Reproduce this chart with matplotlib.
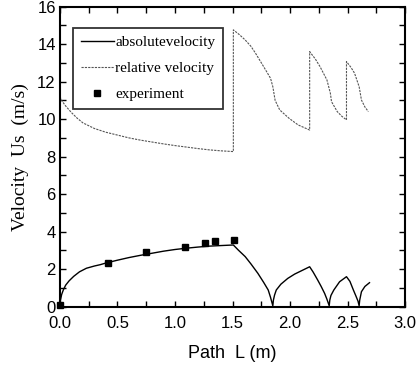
import matplotlib.pyplot as plt
from matplotlib.ticker import MultipleLocator, FormatStrFormatter

# absolute velocity (solid)
abs_x = [0.0, 0.005, 0.015, 0.03, 0.05, 0.08, 0.12, 0.17, 0.23, 0.3, 0.35, 0.4, 0.5, 0.6, 0.7,
         0.8, 0.9, 1.0, 1.1, 1.2, 1.3, 1.4, 1.507,
         1.55, 1.61, 1.66, 1.72, 1.77, 1.81, 1.83, 1.85,
         1.855, 1.865, 1.88, 1.92, 1.98, 2.04, 2.1, 2.17,
         2.2, 2.24, 2.27, 2.3, 2.32, 2.34,
         2.345, 2.355, 2.38, 2.43, 2.49,
         2.52, 2.55, 2.57, 2.59, 2.60,
         2.605, 2.62, 2.65, 2.69]
abs_y = [0.0, 0.35, 0.65, 0.9, 1.15, 1.38, 1.62, 1.86, 2.05, 2.17, 2.24, 2.33, 2.48, 2.62, 2.74,
         2.85, 2.96, 3.05, 3.12, 3.18, 3.23, 3.26, 3.29,
         3.02, 2.67, 2.28, 1.78, 1.3, 0.89, 0.5, 0.05,
         0.35, 0.62, 0.89, 1.2, 1.51, 1.74, 1.92, 2.13,
         1.85, 1.42, 1.08, 0.71, 0.4, 0.05,
         0.35, 0.6, 0.89, 1.33, 1.6,
         1.35, 0.89, 0.6, 0.3, 0.05,
         0.35, 0.8, 1.08, 1.28]

# relative velocity (dotted)
rel_x = [0.0, 0.02, 0.05, 0.1, 0.15, 0.2, 0.3, 0.4, 0.5, 0.6, 0.7, 0.8, 0.9, 1.0,
         1.1, 1.2, 1.3, 1.4, 1.507,
         1.507, 1.56, 1.61, 1.66, 1.70, 1.77, 1.83, 1.85, 1.87, 1.91, 1.99, 2.07, 2.17,
         2.17, 2.22, 2.26, 2.32, 2.35, 2.36, 2.41, 2.45, 2.49,
         2.49, 2.53, 2.56, 2.60, 2.62, 2.65, 2.68]
rel_y = [11.2, 10.95, 10.7, 10.35, 10.05, 9.8, 9.5, 9.3, 9.15, 9.0, 8.88, 8.78, 8.68, 8.59,
         8.51, 8.43, 8.36, 8.31, 8.27,
         14.76, 14.5, 14.22, 13.88, 13.51, 12.8, 12.18, 11.73, 11.0, 10.49, 10.05, 9.69, 9.42,
         13.6, 13.2, 12.8, 12.09, 11.38, 10.93, 10.4, 10.15, 9.96,
         13.07, 12.75, 12.45, 11.73, 11.02, 10.65, 10.4]

# experiment
exp_x = [0.0, 0.42, 0.75, 1.09, 1.26, 1.35, 1.51]
exp_y = [0.08, 2.31, 2.9, 3.2, 3.38, 3.52, 3.56]

fig = plt.figure(figsize=(4.19, 3.66), dpi=100)
ax = fig.add_axes([0.143, 0.162, 0.824, 0.820])

ax.plot(abs_x, abs_y, color='black', lw=1.0, label='absolutevelocity')
ax.plot(rel_x, rel_y, color='#555555', lw=0.8, linestyle=(0, (2, 1)), label='relative velocity')
ax.plot(exp_x, exp_y, linestyle='none', marker='s', color='black', markersize=4.5,
        label='experiment', clip_on=False, zorder=5)

ax.set_xlim(0, 3.0)
ax.set_ylim(0, 16)
ax.xaxis.set_major_locator(MultipleLocator(0.5))
ax.xaxis.set_minor_locator(MultipleLocator(0.25))
ax.xaxis.set_major_formatter(FormatStrFormatter('%.1f'))
ax.yaxis.set_major_locator(MultipleLocator(2))
ax.yaxis.set_minor_locator(MultipleLocator(1))
ax.tick_params(which='both', direction='in', top=True, right=True, width=1.0)
ax.tick_params(which='major', length=4, labelsize=12)
ax.tick_params(which='minor', length=4)
ax.tick_params(axis='x', pad=7)
ax.tick_params(axis='y', pad=3)
for lab in ax.get_xticklabels() + ax.get_yticklabels():
    lab.set_family('Liberation Sans')
for s in ax.spines.values():
    s.set_linewidth(1.5)

ax.set_xlabel('Path  L (m)', fontsize=13, family='Liberation Sans', labelpad=10)
ax.set_ylabel('Velocity  Us  (m/s)', fontsize=14, family='Liberation Serif', labelpad=6)

leg = ax.legend(loc='upper left', bbox_to_anchor=(0.038, 0.929), fancybox=False,
                framealpha=1, edgecolor='#333333', handlelength=2.2, handletextpad=0.05,
                borderpad=0.5, labelspacing=0.8, borderaxespad=0,
                prop={'family': 'Liberation Serif', 'size': 11})
leg.get_frame().set_linewidth(1.3)

plt.savefig('out.png', dpi=100)
